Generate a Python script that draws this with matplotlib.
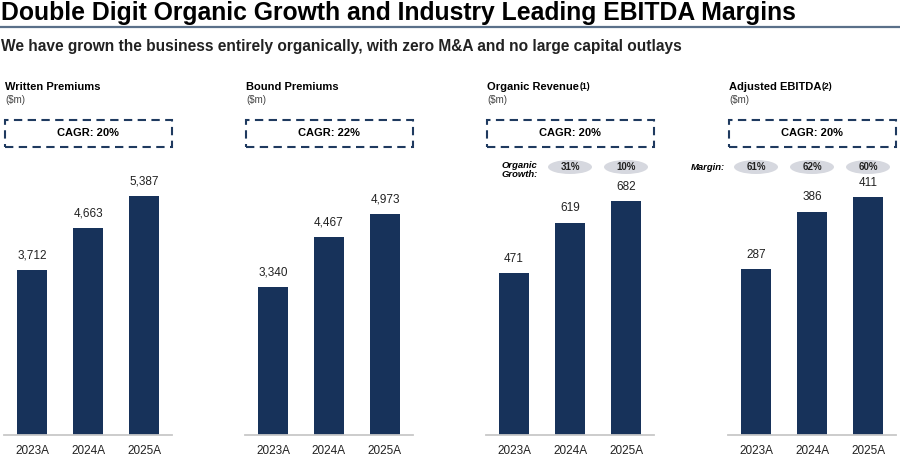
import matplotlib
matplotlib.use("Agg")
import matplotlib.pyplot as plt
from matplotlib.patches import Rectangle, Ellipse
from matplotlib.lines import Line2D

years = ["2023A", "2024A", "2025A"]
titles = ["Written Premiums", "Bound Premiums", "Organic Revenue", "Adjusted EBITDA"]
superscripts = ["", "", "(1)", "(2)"]
cagr = ["CAGR: 20%", "CAGR: 22%", "CAGR: 20%", "CAGR: 20%"]
written = [3712, 4663, 5387]
bound = [3340, 4467, 4973]
revenue = [471, 619, 682]
ebitda = [287, 386, 411]
series = [written, bound, revenue, ebitda]
organic_growth = ["", "31%", "10%"]
margins = ["61%", "62%", "60%"]
ylims = [6190, 6190, 802, 475]

W, H = 900, 476
fig = plt.figure(figsize=(9, 4.76), dpi=100)
plt.rcParams['font.family'] = ['Liberation Sans', 'DejaVu Sans']

NAVY = "#17325a"
PILL = "#d6d8df"

def fx(px):
    return px / W

def fy(py):
    return 1 - py / H

# title
fig.text(fx(1), fy(13), "Double Digit Organic Growth and Industry Leading EBITDA Margins",
         fontsize=17.8, fontweight="bold", va="center", ha="left")
fig.add_artist(Line2D([0, 1], [fy(27), fy(27)], color="#5a7089", lw=1.6))
fig.text(fx(1), fy(47), "We have grown the business entirely organically, with zero M&A and no large capital outlays",
         fontsize=11.2, fontweight="bold", va="center", ha="left", color="#222222")

panel_left = [4, 245, 486, 728]
pw = 168
ax_top, ax_bot = 160, 435

for i in range(4):
    L = panel_left[i]
    ax = fig.add_axes([fx(L), fy(ax_bot), fx(pw), (ax_bot - ax_top) / H])
    vals = series[i]
    x = list(range(len(years)))
    ax.bar(x, vals, width=0.536, color=NAVY, zorder=2)
    ax.set_xlim(-0.5, 2.5)
    ax.set_ylim(0, ylims[i])
    for s in ["top", "right", "left"]:
        ax.spines[s].set_visible(False)
    ax.spines["bottom"].set_color("#c8c8c8")
    ax.spines["bottom"].set_linewidth(1.3)
    ax.set_yticks([])
    ax.set_xticks(x)
    ax.set_xticklabels(years, fontsize=8.5, color="#222222")
    ax.tick_params(axis="x", length=0, pad=7)
    for xi, v in zip(x, vals):
        ax.annotate(f"{v:,}", (xi, v), xytext=(0, 6), textcoords="offset points",
                    ha="center", va="bottom", fontsize=8.5, color="#222222")
    # headers
    t = fig.text(fx(L + 1), fy(87), titles[i], fontsize=8, fontweight="bold",
                 va="center", ha="left")
    if superscripts[i]:
        ax.annotate(superscripts[i], xy=(1, 1), xycoords=t, xytext=(0.5, 0),
                    textcoords="offset points", fontsize=6.3, fontweight="bold",
                    ha="left", va="top", annotation_clip=False)
    fig.text(fx(L + 1), fy(100), "($m)", fontsize=7, color="#444444", va="center", ha="left")
    # CAGR box
    fig.add_artist(Rectangle((fx(L + 1), fy(147)), fx(pw - 1), (147 - 120) / H,
                             fill=False, edgecolor="#1f3a5f", lw=1.5,
                             linestyle=(0, (4, 2.6))))
    fig.text(fx(L + pw / 2), fy(133.5), cagr[i], fontsize=8.0, fontweight="bold",
             ha="center", va="center")

# Pills for Organic Growth (panel 3) and Margin (panel 4)
def pill(cx_px, label):
    fig.add_artist(Ellipse((fx(cx_px), fy(167)), fx(44), 14 / H, facecolor=PILL, edgecolor="none"))
    fig.text(fx(cx_px), fy(167), label, fontsize=7, fontweight="bold", ha="center", va="center",
             color="#222222")

fig.text(fx(502), fy(170), "Organic\nGrowth:", fontsize=6.8, fontweight="bold", style="italic",
         ha="left", va="center", linespacing=1.1)
centers3 = [514, 570, 626]
for c, g in zip(centers3, organic_growth):
    if g:
        pill(c, g)

fig.text(fx(725), fy(167), "Margin:", fontsize=6.8, fontweight="bold", style="italic",
         ha="right", va="center")
centers4 = [756, 812, 868]
for c, m in zip(centers4, margins):
    pill(c, m)

fig.savefig("out.png", dpi=100)
